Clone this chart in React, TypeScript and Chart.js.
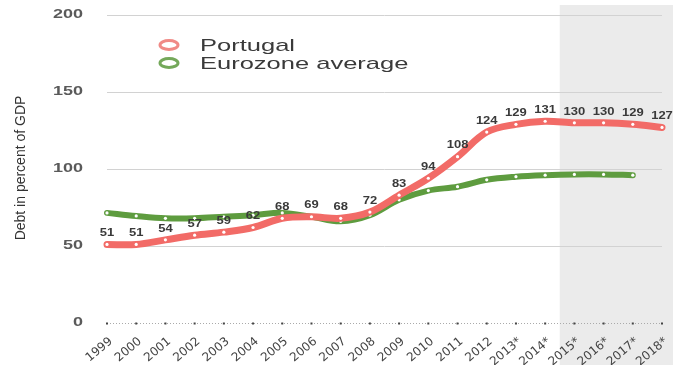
import React, { useEffect, useRef } from "react";
import { Chart, registerables } from "chart.js";

Chart.register(...registerables);

const years = ["1999","2000","2001","2002","2003","2004","2005","2006","2007","2008","2009","2010","2011","2012","2013*","2014*","2015*","2016*","2017*","2018*"];
const portugal = [51, 51, 54, 57, 59, 62, 68, 69, 68, 72, 83, 94, 108, 124, 129, 131, 130, 130, 129, 127];
const eurozone = [71.5, 69.5, 68, 68, 69, 70, 71.5, 69, 66, 70, 80, 86, 88.5, 93, 95, 96, 96.5, 96.5, 96, null];
const yTicks = [0, 50, 100, 150, 200];
const forecastStart = 16; // shaded band begins between 2014* and 2015*
const legendItems = ["Portugal", "Eurozone average"];
const yTitle = "Debt in percent of GDP";

const RED = "#f26b67";
const GREEN = "#5e9c3f";

function txt(ctx: CanvasRenderingContext2D, s: string, x: number, y: number, font: string, color: string, sx: number, align: CanvasTextAlign, baseline: CanvasTextBaseline) {
  ctx.save();
  ctx.translate(x, y);
  ctx.scale(sx, 1);
  ctx.font = font;
  ctx.fillStyle = color;
  ctx.textAlign = align;
  ctx.textBaseline = baseline;
  ctx.fillText(s, 0, 0);
  ctx.restore();
}

const decor = {
  id: "decor",
  beforeDraw(chart: any) {
    const { ctx, scales } = chart;
    const x = scales.x;
    const left = (x.getPixelForValue(forecastStart - 1) + x.getPixelForValue(forecastStart)) / 2;
    ctx.save();
    ctx.fillStyle = "#ebebeb";
    ctx.fillRect(left, 5, 673 - left, 365 - 5);
    ctx.restore();
  },
  afterDraw(chart: any) {
    const { ctx, scales, chartArea } = chart;
    const x = scales.x;
    const y = scales.y;
    const y0 = y.getPixelForValue(0);
    ctx.save();
    ctx.strokeStyle = "#aaa";
    ctx.lineWidth = 1;
    ctx.setLineDash([1, 2]);
    ctx.beginPath();
    ctx.moveTo(chartArea.left, y0 + 0.5);
    ctx.lineTo(chartArea.right, y0 + 0.5);
    ctx.stroke();
    ctx.setLineDash([]);
    ctx.fillStyle = "#444";
    years.forEach((_, i) => {
      const px = x.getPixelForValue(i);
      ctx.fillRect(px - 1, y0 - 0.5, 2, 2);
    });
    ctx.restore();
    yTicks.forEach((v) => {
      txt(ctx, String(v), 83, y.getPixelForValue(v), "bold 12px 'Liberation Sans'", "#5a5a5a", 1.5, "right", "middle");
    });
    years.forEach((lab, i) => {
      const px = x.getPixelForValue(i);
      ctx.save();
      ctx.translate(px + 4, y0 + 17);
      ctx.rotate(-40 * Math.PI / 180);
      ctx.font = "12px 'DejaVu Sans'";
      ctx.fillStyle = "#444";
      ctx.textAlign = "right";
      ctx.textBaseline = "middle";
      ctx.fillText(lab, 0, 0);
      ctx.restore();
    });
    const meta = chart.getDatasetMeta(0);
    meta.data.forEach((pt: any, i: number) => {
      txt(ctx, String(portugal[i]), pt.x, pt.y - 11, "bold 10px 'Liberation Sans'", "#3a3a3a", 1.3, "center", "middle");
    });
    ctx.save();
    ctx.translate(21, 168);
    ctx.rotate(-Math.PI / 2);
    ctx.font = "14px 'Liberation Sans'";
    ctx.fillStyle = "#333";
    ctx.textAlign = "center";
    ctx.textBaseline = "middle";
    ctx.fillText(yTitle, 0, 0);
    ctx.restore();
    const cols = ["#f08a86", "#74a85a"];
    const ly = [45, 63];
    legendItems.forEach((name, i) => {
      ctx.save();
      ctx.strokeStyle = cols[i];
      ctx.lineWidth = 3;
      ctx.beginPath();
      ctx.ellipse(169, ly[i], 9, 4.5, 0, 0, Math.PI * 2);
      ctx.stroke();
      ctx.restore();
      txt(ctx, name, 200, ly[i] + 1, "17px 'Liberation Sans'", "#3a3a3a", 1.5, "left", "middle");
    });
  },
};

export default function App() {
  const ref = useRef<HTMLCanvasElement>(null);
  useEffect(() => {
    document.body.style.margin = "0";
    const canvas = ref.current!;
    const chart = new Chart(canvas, {
      type: "line",
      data: {
        labels: years,
        datasets: [
          {
            label: legendItems[0],
            data: portugal,
            borderColor: RED,
            borderWidth: 7,
            tension: 0.35,
            pointRadius: 1.6,
            pointBackgroundColor: "#fff",
            pointBorderWidth: 0,
            borderCapStyle: "round",
            borderJoinStyle: "round",
          },
          {
            label: legendItems[1],
            data: eurozone,
            borderColor: GREEN,
            borderWidth: 6,
            tension: 0.35,
            pointRadius: 1.6,
            pointBackgroundColor: "#fff",
            pointBorderWidth: 0,
            borderCapStyle: "round",
            borderJoinStyle: "round",
          },
        ],
      },
      options: {
        animation: false,
        responsive: false,
        maintainAspectRatio: false,
        layout: { padding: { top: 15, right: 15, left: 0, bottom: 0 } },
        plugins: { legend: { display: false }, tooltip: { enabled: false } },
        scales: {
          x: {
            offset: false,
            grid: { display: false },
            border: { display: false },
            ticks: { display: false },
            afterFit: (s: any) => { s.height = 42; },
          },
          y: {
            min: 0,
            max: 200,
            ticks: { display: false, stepSize: 50 },
            grid: {
              color: (c: any) => (c.tick && c.tick.value === 0 ? "rgba(0,0,0,0)" : "#d2d2d2"),
              drawTicks: false,
              lineWidth: 1,
            },
            border: { display: false },
            afterFit: (s: any) => { s.width = 107; },
          },
        },
      },
      plugins: [decor],
    } as any);
    return () => chart.destroy();
  }, []);
  return (
    <div style={{ width: 677, height: 365 }}>
      <canvas ref={ref} width={677} height={365} style={{ display: "block" }} />
    </div>
  );
}
